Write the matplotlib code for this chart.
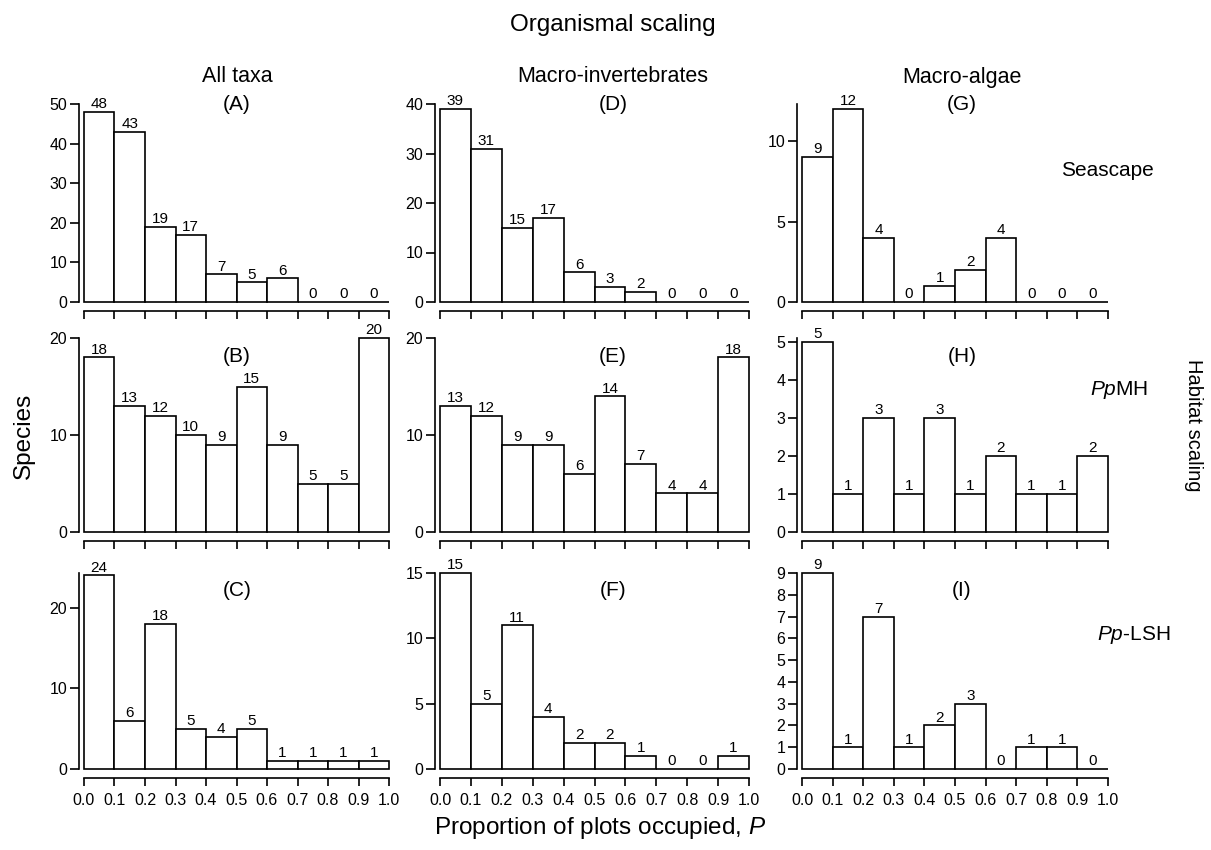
import numpy as np
import matplotlib
matplotlib.use('Agg')
import matplotlib.pyplot as plt
from matplotlib import font_manager

plt.rcParams['font.family'] = ['Liberation Sans', 'DejaVu Sans']
plt.rcParams['mathtext.fontset'] = 'custom'
plt.rcParams['mathtext.rm'] = 'Liberation Sans'
plt.rcParams['mathtext.it'] = 'Liberation Sans:italic'

# bin left edges, proportion of plots occupied
bins = np.arange(0, 1.0, 0.1)

# species counts per bin, panels A..I
A = [48, 43, 19, 17, 7, 5, 6, 0, 0, 0]
B = [18, 13, 12, 10, 9, 15, 9, 5, 5, 20]
C = [24, 6, 18, 5, 4, 5, 1, 1, 1, 1]
D = [39, 31, 15, 17, 6, 3, 2, 0, 0, 0]
E = [13, 12, 9, 9, 6, 14, 7, 4, 4, 18]
F = [15, 5, 11, 4, 2, 2, 1, 0, 0, 1]
G = [9, 12, 4, 0, 1, 2, 4, 0, 0, 0]
H = [5, 1, 3, 1, 3, 1, 2, 1, 1, 2]
I = [9, 1, 7, 1, 2, 3, 0, 1, 1, 0]

letters = [['(A)', '(D)', '(G)'], ['(B)', '(E)', '(H)'], ['(C)', '(F)', '(I)']]
counts = [[A, D, G], [B, E, H], [C, F, I]]
yticks = [[[0, 10, 20, 30, 40, 50], [0, 10, 20, 30, 40], [0, 5, 10]],
          [[0, 10, 20], [0, 10, 20], [0, 1, 2, 3, 4, 5]],
          [[0, 10, 20], [0, 5, 10, 15], list(range(10))]]
ytop = [[50, 40, 12.3], [20, 20, 5.1], [24.3, 15, 9]]

col_titles = ['All taxa', 'Macro-invertebrates', 'Macro-algae']
row_titles = ['Seascape', '$Pp$MH', '$Pp$-LSH']
xticks = np.round(np.arange(0, 1.01, 0.1), 1)

W, Hpx = 1211, 850
fig = plt.figure(figsize=(W / 100, Hpx / 100), dpi=100)

# pixel layout (x of P=0 and P=1, y of count 0 and axis top)
colx = [(84, 389), (440, 749), (802, 1108)]
rowy = [(302, 104), (532, 338), (769, 573)]
letter_x = [237, 613, 962]
letter_y = [105, 357, 591]

for r in range(3):
    for c in range(3):
        x0, x1 = colx[c]
        y0, y1 = rowy[r]
        ax = fig.add_axes([x0 / W, 1 - y0 / Hpx, (x1 - x0) / W, (y0 - y1) / Hpx])
        bars = ax.bar(bins, counts[r][c], width=0.1, align='edge',
                      color='white', edgecolor='black', linewidth=1.2, clip_on=False)
        ax.bar_label(bars, padding=0.5, fontsize=11)
        ax.set_xlim(0, 1)
        ax.set_ylim(0, ytop[r][c])
        for s in ['top', 'right']:
            ax.spines[s].set_visible(False)
        ax.spines['left'].set_position(('outward', 3.6))
        ax.spines['bottom'].set_position(('outward', 6.5))
        ax.spines['left'].set_bounds(0, ytop[r][c])
        ax.spines['bottom'].set_bounds(0, 1)
        for s in ['left', 'bottom']:
            ax.spines[s].set_linewidth(1.2)
        ax.set_xticks(xticks)
        ax.set_yticks(yticks[r][c])
        ax.tick_params(axis='y', direction='out', length=6.5, width=1.2, labelsize=11.5, pad=2)
        ax.tick_params(axis='x', direction='out', length=6, width=1.2, labelsize=11.5, pad=5)
        if r == 2:
            ax.set_xticklabels(['%.1f' % v for v in xticks])
        else:
            ax.set_xticklabels([])
        ax.patch.set_visible(False)
        fig.text(letter_x[c] / W, 1 - letter_y[r] / Hpx, letters[r][c],
                 ha='center', va='center', fontsize=15)

names = {f.name for f in font_manager.fontManager.ttflist}
if 'Liberation Sans Narrow' in names:
    head_font, head_size, top_size = 'Liberation Sans Narrow', 18, 21
else:
    head_font, head_size, top_size = 'Liberation Sans', 15.5, 17.5

fig.text(613 / W, 1 - 25 / Hpx, 'Organismal scaling', ha='center', va='center',
         fontsize=top_size, family=head_font)
for c in range(3):
    fig.text(letter_x[c] / W, 1 - 77 / Hpx, col_titles[c], ha='center', va='center',
             fontsize=head_size, family=head_font)

row_lab_x = [1107, 1119, 1134]
row_lab_y = [170, 390, 635]
for r in range(3):
    fig.text(row_lab_x[r] / W, 1 - row_lab_y[r] / Hpx, row_titles[r],
             ha='center', va='center', fontsize=15)

fig.text(1193 / W, 1 - 425 / Hpx, 'Habitat scaling', rotation=270,
         ha='center', va='center', fontsize=14.5)
fig.text(24 / W, 1 - 436 / Hpx, 'Species', rotation=90,
         ha='center', va='center', fontsize=17.5)
fig.text(600 / W, 1 - 828 / Hpx, 'Proportion of plots occupied, $P$',
         ha='center', va='center', fontsize=17.5)

fig.savefig('out.png', dpi=100)
